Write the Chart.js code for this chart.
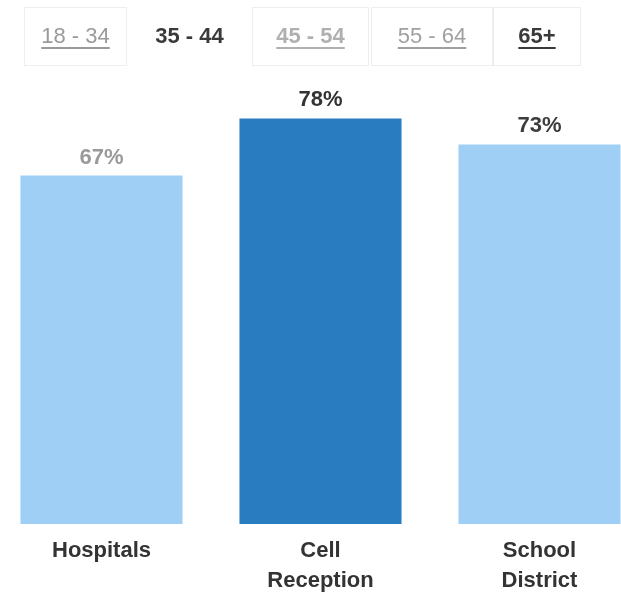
<!DOCTYPE html>
<html>
<head>
<meta charset="utf-8">
<script src="https://cdn.jsdelivr.net/npm/chart.js@4/dist/chart.umd.min.js"></script>
<style>
  html, body { margin: 0; padding: 0; background: #fff; overflow: hidden; }
  body { width: 621px; height: 599px; position: relative; font-family: "Liberation Sans", Arial, sans-serif; }
  #wrap { position: absolute; left: -8px; top: 0; width: 657px; height: 599px; }
  .tab { position: absolute; top: 7px; height: 59px; line-height: 56px; text-align: center;
         font-size: 22px; box-sizing: border-box; border: 1px solid #eeeeee; z-index: 2; }
  .tab a { text-decoration: underline; text-underline-offset: 4px; }
</style>
</head>
<body>
<div class="tab" style="left:24px;width:103px;"><a style="color:#9a9a9a;">18 - 34</a></div>
<div class="tab" style="left:127px;width:125px;border-color:#fff;font-weight:bold;color:#3a3a3a;">35 - 44</div>
<div class="tab" style="left:252px;width:117px;font-weight:bold;"><a style="color:#b0b0b0;">45 - 54</a></div>
<div class="tab" style="left:371px;width:122px;"><a style="color:#a0a0a0;">55 - 64</a></div>
<div class="tab" style="left:493px;width:88px;font-weight:bold;"><a style="color:#3a3a3a;">65+</a></div>
<div id="wrap"><canvas id="chart"></canvas></div>
<script>
// categorias e valores (%)
const categorias = [['Hospitals'], ['Cell', 'Reception'], ['School', 'District']];
const valores = [67, 78, 73];
const coresBarras = ['#9fcff5', '#2a7cc0', '#9fcff5'];
const coresRotulos = ['#9a9a9a', '#333333', '#3c3c3c'];

// escreve o valor acima de cada barra
const rotulosValor = {
    id: 'rotulosValor',
    afterDatasetsDraw(chart) {
        const ctx = chart.ctx;
        const meta = chart.getDatasetMeta(0);
        ctx.save();
        ctx.font = 'bold 22px "Liberation Sans", Arial, sans-serif';
        ctx.textAlign = 'center';
        ctx.textBaseline = 'alphabetic';
        meta.data.forEach(function (bar, i) {
            ctx.fillStyle = coresRotulos[i];
            ctx.fillText(valores[i] + '%', bar.x, bar.y - 12);
        });
        ctx.restore();
    }
};

const config = {
    type: 'bar',
    data: {
        labels: categorias,
        datasets: [{
            data: valores,
            backgroundColor: coresBarras,
            barPercentage: 0.74,
            categoryPercentage: 1.0,
        }]
    },
    options: {
        responsive: true,
        maintainAspectRatio: false,
        animation: false,
        layout: { padding: { top: 4, bottom: 0, left: 0, right: 0 } },
        plugins: {
            legend: { display: false },
            tooltip: { enabled: false },
        },
        scales: {
            x: {
                grid: { display: false },
                border: { display: false },
                afterFit: function (scale) { scale.height = 75; },
                ticks: {
                    color: '#333',
                    padding: 4,
                    font: { family: '"Liberation Sans", Arial, sans-serif', size: 22, weight: 'bold', lineHeight: 1.35 },
                }
            },
            y: {
                display: false,
                min: 0,
                max: 100,
            }
        }
    },
    plugins: [rotulosValor]
};

new Chart(document.getElementById('chart'), config);
</script>
</body>
</html>
